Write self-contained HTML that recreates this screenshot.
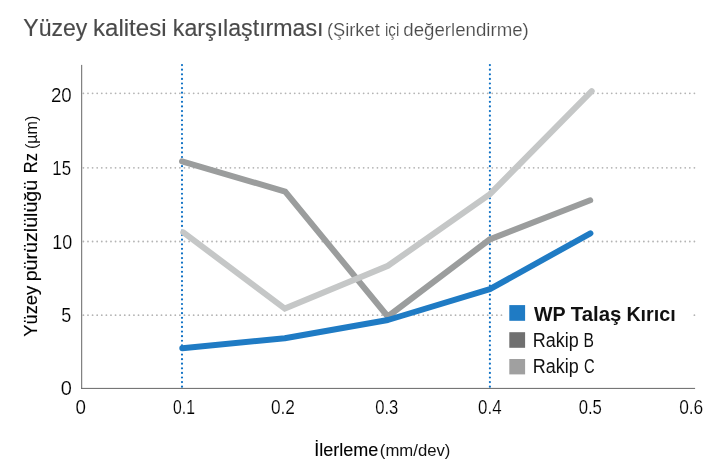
<!DOCTYPE html>
<html lang="tr">
<head>
<meta charset="utf-8">
<title>Yüzey kalitesi karşılaştırması</title>
<style>
html,body{margin:0;padding:0;background:#fff;}
body{width:728px;height:470px;overflow:hidden;}
svg{display:block;font-family:"Liberation Sans",sans-serif;}
</style>
</head>
<body>
<svg width="728" height="470" viewBox="0 0 728 470">
<rect width="728" height="470" fill="#fff"/>
<!-- title -->
<text y="35.70" font-size="24.3" fill="#4a4a4a" stroke="#4a4a4a" stroke-width="0.15"><tspan x="23.29" textLength="64.04" lengthAdjust="spacingAndGlyphs">Yüzey</tspan> <tspan x="93.07" textLength="73.44" lengthAdjust="spacingAndGlyphs">kalitesi</tspan> <tspan x="172.83" textLength="150.73" lengthAdjust="spacingAndGlyphs">karşılaştırması</tspan></text>
<text y="35.60" font-size="18.8" fill="#4a4a4a" stroke="#fff" stroke-width="0.18"><tspan x="326.99" textLength="52.73" lengthAdjust="spacingAndGlyphs">(Şirket</tspan> <tspan x="384.99" textLength="14.32" lengthAdjust="spacingAndGlyphs">içi</tspan> <tspan x="403.36" textLength="125.41" lengthAdjust="spacingAndGlyphs">değerlendirme)</tspan></text>
<!-- gridlines -->
<g stroke="#b4b4b4" stroke-width="1.8" stroke-linecap="round" stroke-dasharray="0.01 4.584" fill="none">
<line x1="83.4" y1="93.3" x2="696" y2="93.3"/>
<line x1="83.4" y1="167.8" x2="696" y2="167.8"/>
<line x1="83.4" y1="241.5" x2="696" y2="241.5"/>
<line x1="83.4" y1="315.2" x2="696" y2="315.2"/>
</g>
<!-- vertical blue dotted -->
<g stroke="#0d70c4" stroke-width="2.2" stroke-linecap="round" stroke-dasharray="0.01 4.584" fill="none">
<line x1="182" y1="65.1" x2="182" y2="388.6"/>
<line x1="489.9" y1="65.1" x2="489.9" y2="388.6"/>
</g>
<!-- axes -->
<g stroke="#666" stroke-width="1" fill="none">
<line x1="81.7" y1="64.9" x2="81.7" y2="388.9"/>
<line x1="81.2" y1="388.4" x2="695.1" y2="388.4"/>
</g>
<!-- series -->
<g fill="none" stroke-linecap="round" stroke-linejoin="miter">
<polyline stroke="#9b9d9d" stroke-width="6" points="182.0,161.4 285.2,191.6 387.8,316.5 489.6,239.5 590.2,200.3"/>
<polyline stroke="#c5c7c7" stroke-width="6" points="183.3,232.4 284.8,308.6 387.9,265.8 489.9,194.2 591.7,91.2"/>
<polyline stroke="#1f7bc4" stroke-width="6" stroke-linejoin="round" points="182.3,348.2 284.8,338.3 387.9,320.0 489.9,289.2 590.4,233.3"/>
</g>
<!-- legend -->
<rect x="504" y="300" width="189" height="80" fill="#fff"/>
<rect x="509.3" y="305.1" width="15.8" height="15.7" fill="#1f7bc4"/>
<rect x="509.3" y="332.2" width="15.8" height="15.6" fill="#707070"/>
<rect x="509.3" y="359.0" width="15.8" height="15.4" fill="#a0a0a0"/>
<text y="320.60" font-size="21" font-weight="bold" fill="#111"><tspan x="534.00" textLength="31.27" lengthAdjust="spacingAndGlyphs">WP</tspan> <tspan x="570.76" textLength="50.62" lengthAdjust="spacingAndGlyphs">Talaş</tspan> <tspan x="626.39" textLength="49.24" lengthAdjust="spacingAndGlyphs">Kırıcı</tspan></text>
<text y="346.50" font-size="19.6" fill="#111"><tspan x="532.82" textLength="45.96" lengthAdjust="spacingAndGlyphs">Rakip</tspan> <tspan x="583.60" textLength="10.46" lengthAdjust="spacingAndGlyphs">B</tspan></text>
<text y="373.30" font-size="19.6" fill="#111"><tspan x="532.82" textLength="45.96" lengthAdjust="spacingAndGlyphs">Rakip</tspan> <tspan x="584.05" textLength="10.63" lengthAdjust="spacingAndGlyphs">C</tspan></text>
<!-- y tick labels -->
<text y="101.90" font-size="19.6" fill="#000" stroke="#fff" stroke-width="0.18"><tspan x="50.95" textLength="20.82" lengthAdjust="spacingAndGlyphs">20</tspan></text>
<text y="175.00" font-size="19.6" fill="#000" stroke="#fff" stroke-width="0.18"><tspan x="52.31" textLength="18.78" lengthAdjust="spacingAndGlyphs">15</tspan></text>
<text y="248.80" font-size="19.6" fill="#000" stroke="#fff" stroke-width="0.18"><tspan x="52.22" textLength="20.01" lengthAdjust="spacingAndGlyphs">10</tspan></text>
<text y="322.00" font-size="19.6" fill="#000" stroke="#fff" stroke-width="0.18"><tspan x="61.21" textLength="10.02" lengthAdjust="spacingAndGlyphs">5</tspan></text>
<text y="394.80" font-size="19.6" fill="#000" stroke="#fff" stroke-width="0.18"><tspan x="60.83" textLength="11.14" lengthAdjust="spacingAndGlyphs">0</tspan></text>
<!-- x tick labels -->
<text y="413.60" font-size="19.6" fill="#000" stroke="#fff" stroke-width="0.18"><tspan x="75.58" textLength="10.45" lengthAdjust="spacingAndGlyphs">0</tspan></text>
<text y="413.60" font-size="19.6" fill="#000" stroke="#fff" stroke-width="0.18"><tspan x="173.00" textLength="21.91" lengthAdjust="spacingAndGlyphs">0.1</tspan></text>
<text y="413.60" font-size="19.6" fill="#000" stroke="#fff" stroke-width="0.18"><tspan x="270.94" textLength="24.04" lengthAdjust="spacingAndGlyphs">0.2</tspan></text>
<text y="413.60" font-size="19.6" fill="#000" stroke="#fff" stroke-width="0.18"><tspan x="375.16" textLength="23.08" lengthAdjust="spacingAndGlyphs">0.3</tspan></text>
<text y="413.60" font-size="19.6" fill="#000" stroke="#fff" stroke-width="0.18"><tspan x="478.05" textLength="23.48" lengthAdjust="spacingAndGlyphs">0.4</tspan></text>
<text y="413.60" font-size="19.6" fill="#000" stroke="#fff" stroke-width="0.18"><tspan x="578.66" textLength="23.28" lengthAdjust="spacingAndGlyphs">0.5</tspan></text>
<text y="413.60" font-size="19.6" fill="#000" stroke="#fff" stroke-width="0.18"><tspan x="679.14" textLength="24.15" lengthAdjust="spacingAndGlyphs">0.6</tspan></text>
<!-- axis titles -->
<text y="455.90" font-size="19.0" fill="#000" stroke="#000" stroke-width="0.12"><tspan x="314.14" textLength="64.04" lengthAdjust="spacingAndGlyphs">İlerleme</tspan></text>
<text y="455.70" font-size="16.5" fill="#111"><tspan x="379.89" textLength="70.55" lengthAdjust="spacingAndGlyphs">(mm/dev)</tspan></text>
<g transform="translate(36.6,336.3) rotate(-90)">
<text y="0.00" font-size="18.5" fill="#000" stroke="#000" stroke-width="0.12"><tspan x="-0.50" textLength="50.97" lengthAdjust="spacingAndGlyphs">Yüzey</tspan> <tspan x="54.97" textLength="101.55" lengthAdjust="spacingAndGlyphs">pürüzlülüğü</tspan> <tspan x="163.06" textLength="20.22" lengthAdjust="spacingAndGlyphs">Rz</tspan></text>
<text y="0.00" font-size="16.0" fill="#111"><tspan x="187.30" textLength="33.26" lengthAdjust="spacingAndGlyphs">(µm)</tspan></text>
</g>
</svg>
</body>
</html>
